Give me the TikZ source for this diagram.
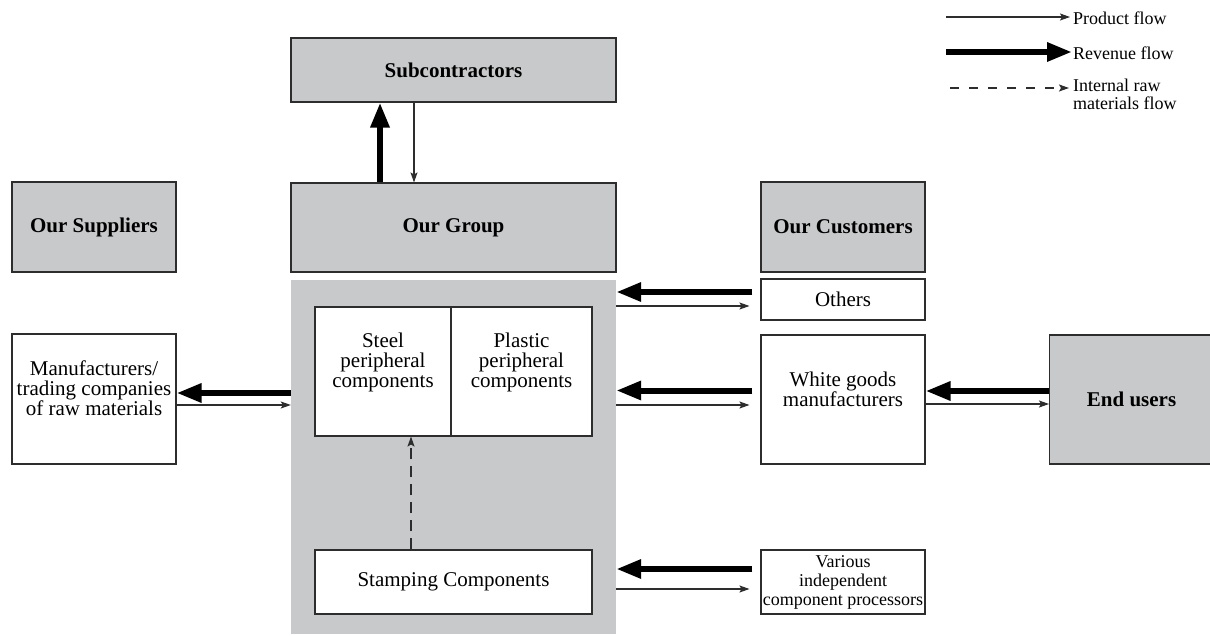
\documentclass[tikz,border=0pt]{standalone}
\usepackage{fontspec}
\setmainfont{Liberation Serif}
\usetikzlibrary{arrows.meta,calc}
\definecolor{boxgray}{RGB}{200,201,203}
\definecolor{edge}{RGB}{45,45,45}
\begin{document}
\begin{tikzpicture}[x=1pt,y=-1pt,
  box/.style={draw=edge, line width=1.1pt, fill=white, inner sep=0pt,
    align=center, font=\fontsize{21}{20}\selectfont},
  graybox/.style={box, fill=boxgray, font=\fontsize{21}{20}\selectfont\bfseries},
  smallbox/.style={box, font=\fontsize{18}{19}\selectfont},
  legendtext/.style={inner sep=3pt, align=left, font=\fontsize{18}{18}\selectfont},
  revenue/.style={line width=6pt, -{Triangle[length=25pt,width=18pt]}},
  product/.style={line width=1.1pt, draw=edge, -{Stealth[length=10pt,width=7pt,inset=2pt]}},
  internal/.style={product, dash pattern=on 11pt off 7pt},
  legenddash/.style={product, dash pattern=on 9pt off 10pt},
]
\useasboundingbox (0,0) rectangle (1210,636);

% grey area holding the group's product lines
\node[fill=boxgray, minimum width=325pt, minimum height=354pt, inner sep=0pt] (core) at (453.5,457) {};

% top row
\node[graybox, minimum width=325pt, minimum height=64pt] (sub) at (453.5,70) {Subcontractors};
\node[graybox, minimum width=325pt, minimum height=89pt] (grp) at (453.5,227.5) {Our Group};
\node[graybox, minimum width=164pt, minimum height=90pt] (sup) at (94,227) {Our Suppliers};
\node[graybox, minimum width=164pt, minimum height=90pt] (cus) at (843,227) {Our Customers};

% product lines inside the group
\node[box, minimum width=136pt, minimum height=129pt, text depth=22pt] (steel) at (383,371.5) {Steel\\peripheral\\components};
\node[box, minimum width=141pt, minimum height=129pt, text depth=22pt] (plastic) at (521.5,371.5) {Plastic\\peripheral\\components};
\node[box, minimum width=277pt, minimum height=64pt] (stamp) at (453.5,582) {Stamping Components};

% suppliers and customers
\node[box, minimum width=164pt, minimum height=130pt, text depth=22pt] (mfr) at (94,399) {Manufacturers/\\trading companies\\of raw materials};
\node[box, minimum width=164pt, minimum height=41pt] (others) at (843,299.5) {Others};
\node[box, minimum width=164pt, minimum height=129pt, text depth=20pt] (wg) at (843,399.5) {White goods\\manufacturers};
\node[smallbox, minimum width=164pt, minimum height=64pt] (var) at (843,582) {Various\\independent\\component processors};
\node[graybox, minimum width=164pt, minimum height=129pt, anchor=west] (end) at (1049,399.5) {End users};

% flows with subcontractors
\draw[revenue] ($(grp.north)+(-73.5,0)$) -- ($(sub.south)+(-73.5,0)$);
\draw[product] ($(sub.south)+(-39.5,0)$) -- ($(grp.north)+(-39.5,0)$);

% flows with raw material suppliers
\draw[revenue] ($(core.west|-mfr.east)+(0,-6)$) -- ($(mfr.east)+(0,-6)$);
\draw[product] ($(mfr.east)+(0,6)$) -- ($(core.west|-mfr.east)+(0,6)$);

% flows with customers
\draw[revenue] ($(others.west)+(-8,-7.5)$) -- ($(core.east|-others.west)+(0,-7.5)$);
\draw[product] ($(core.east|-others.west)+(0,6.5)$) -- ($(others.west)+(-11,6.5)$);
\draw[revenue] ($(wg.west)+(-8,-9)$) -- ($(core.east|-wg.west)+(0,-9)$);
\draw[product] ($(core.east|-wg.west)+(0,5.5)$) -- ($(wg.west)+(-11,5.5)$);
\draw[revenue] ($(var.west)+(-8,-13)$) -- ($(core.east|-var.west)+(0,-13)$);
\draw[product] ($(core.east|-var.west)+(0,7)$) -- ($(var.west)+(-11,7)$);

% flows with end users
\draw[revenue] ($(end.west)+(0,-8.5)$) -- ($(wg.east)+(0,-8.5)$);
\draw[product] ($(wg.east)+(0,4.5)$) -- ($(end.west)+(0,4.5)$);

% internal raw materials
\draw[internal] ($(stamp.north)+(-42.5,0)$) -- ($(steel.south)+(28,0)$);

% legend
\coordinate (lp0) at (946,17);
\coordinate (lr0) at (946,52);
\coordinate (li0) at (950,88);
\node[legendtext, anchor=west] (lp) at (1070,18) {Product flow};
\node[legendtext, anchor=west, inner sep=1pt] (lr) at (1072,53) {Revenue flow};
\node[legendtext, anchor=north west] (li) at (1070,76) {Internal raw\\materials flow};
\draw[product] (lp0) -- (lp0 -| lp.west);
\draw[revenue] (lr0) -- (lr0 -| lr.west);
\draw[legenddash] (li0) -- ($(li0 -| li.west)+(-1,0)$);
\end{tikzpicture}
\end{document}
